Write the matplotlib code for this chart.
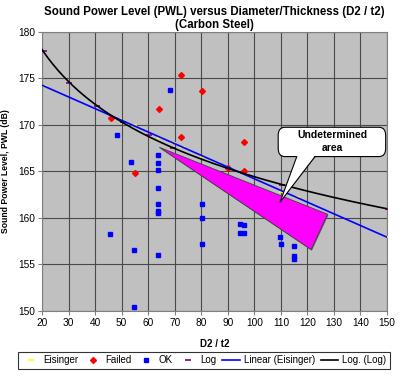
"""Sound power level versus diameter/thickness ratio, carbon steel.
"""
import numpy as np
import matplotlib.pyplot as plt
from matplotlib.patches import FancyBboxPatch, Polygon

plt.rcParams['font.family'] = ['Liberation Sans', 'DejaVu Sans']

# OK points (D2/t2, PWL dB)
ok_x = [68.3, 48.1, 53.4, 63.8, 63.8, 63.8, 63.8, 63.8, 63.8, 63.8, 80.2, 80.2,
        80.2, 45.7, 54.8, 63.8, 54.8, 94.6, 96.2, 94.6, 96.2, 109.8, 110.2,
        115.1, 115.1, 115.1]
ok_y = [173.8, 168.9, 166.0, 166.8, 165.9, 165.2, 163.2, 161.45, 160.8, 160.5,
        161.45, 160.0, 157.2, 158.3, 156.6, 156.0, 150.4, 159.4, 159.2, 158.4,
        158.4, 158.0, 157.2, 157.0, 155.9, 155.6]

# Failed points
failed_x = [46.0, 72.4, 80.3, 64.0, 72.4, 55.0, 96.2, 96.2, 90.2]
failed_y = [170.8, 175.4, 173.7, 171.7, 168.7, 164.85, 168.2, 165.1, 165.4]

# Eisinger points
eis_x = [20.8, 49.1, 54.7, 64.5, 69.2, 72.9, 80.8, 110.3, 116.0, 150.5]
eis_y = [174.2, 170.6, 170.0, 168.6, 168.1, 167.6, 166.6, 162.8, 162.3, 157.9]

# Log points
log_x = [20.6, 30.3, 40.6, 50.4, 60.4, 69.2, 110.3, 150.4]
log_y = [177.9, 174.5, 172.0, 170.35, 168.9, 167.5, 163.5, 161.0]

# undetermined area (triangle)
area_x = [64.2, 127.6, 121.4]
area_y = [167.6, 160.4, 156.6]

fig = plt.figure(figsize=(4, 3.76), dpi=100)
ax = fig.add_axes([0.105, 0.173, 0.8625, 0.742])
ax.set_facecolor('#C0C0C0')

ax.set_xlim(20, 150)
ax.set_ylim(150, 180)
ax.set_xticks(np.arange(20, 151, 10))
ax.set_yticks(np.arange(150, 181, 5))
ax.grid(True, color='#4a4a4a', lw=0.8)
ax.set_axisbelow(True)
ax.tick_params(labelsize=7.3, length=3, color='#808080', pad=2)
for s in ax.spines.values():
    s.set_color('#808080')
    s.set_linewidth(0.8)

# trendlines
xs = np.linspace(20, 150, 200)
lin = np.polyfit(eis_x, eis_y, 1)
lg = np.polyfit(np.log(log_x), log_y, 1)

ax.add_patch(Polygon(list(zip(np.array(area_x) + 0.3, np.array(area_y) - 0.12)),
                     closed=True, fc='#606060', ec='none', zorder=2))
ax.add_patch(Polygon(list(zip(area_x, area_y)), closed=True,
                     fc='#FF00FF', ec='#404040', lw=0.6, zorder=2))

ax.plot(eis_x, eis_y, ls='none', marker='_', color='#FFFF00', ms=4, mew=1.2,
        label='Eisinger', zorder=3)
ax.plot(failed_x, failed_y, ls='none', marker='D', color='#FF0000', ms=3,
        label='Failed', zorder=3)
ax.plot(ok_x, ok_y, ls='none', marker='s', color='#0000FF', ms=3.5,
        label='OK', zorder=3)
ax.plot(log_x, log_y, ls='none', marker='_', color='#800080', ms=4, mew=1.2,
        label='Log', zorder=3)
ax.plot(xs, np.polyval(lin, xs), color='#0000FF', lw=1.2,
        label='Linear (Eisinger)', zorder=4)
ax.plot(xs, np.polyval(lg, np.log(xs)), color='black', lw=1.2,
        label='Log. (Log)', zorder=4)

# callout
box = FancyBboxPatch((109.0, 166.6), 40.5, 3.15, boxstyle='round,pad=0,rounding_size=2.5',
                     mutation_aspect=0.35, fc='white', ec='black', lw=0.8, zorder=5)
ax.add_patch(box)
tail = [(116.0, 166.75), (122.9, 166.75), (109.7, 161.7)]
ax.add_patch(Polygon(tail, closed=True, fc='white', ec='none', zorder=6))
ax.plot([116.0, 109.7, 122.9], [166.6, 161.7, 166.6], color='black', lw=0.8, zorder=6)
ax.text(129.3, 168.2, 'Undetermined\narea', ha='center', va='center',
        fontsize=7.5, fontweight='bold', linespacing=1.3, zorder=7)

ax.set_title('Sound Power Level (PWL) versus Diameter/Thickness (D2 / t2)\n(Carbon Steel)',
             fontsize=8.3, fontweight='bold', pad=3, linespacing=1.1)
ax.set_xlabel('D2 / t2', fontsize=7, fontweight='bold', labelpad=8)
ax.set_ylabel('Sound Power Level, PWL (dB)', fontsize=6.2, fontweight='bold', labelpad=6)

leg = fig.legend(loc='center', bbox_to_anchor=(0.51, 0.042), ncol=6, fontsize=7,
                 frameon=True, fancybox=False, edgecolor='black', handlelength=1.8,
                 handletextpad=0.4, columnspacing=0.6, borderpad=0.35)
leg.get_frame().set_linewidth(0.8)

fig.savefig('out.png', dpi=100)
